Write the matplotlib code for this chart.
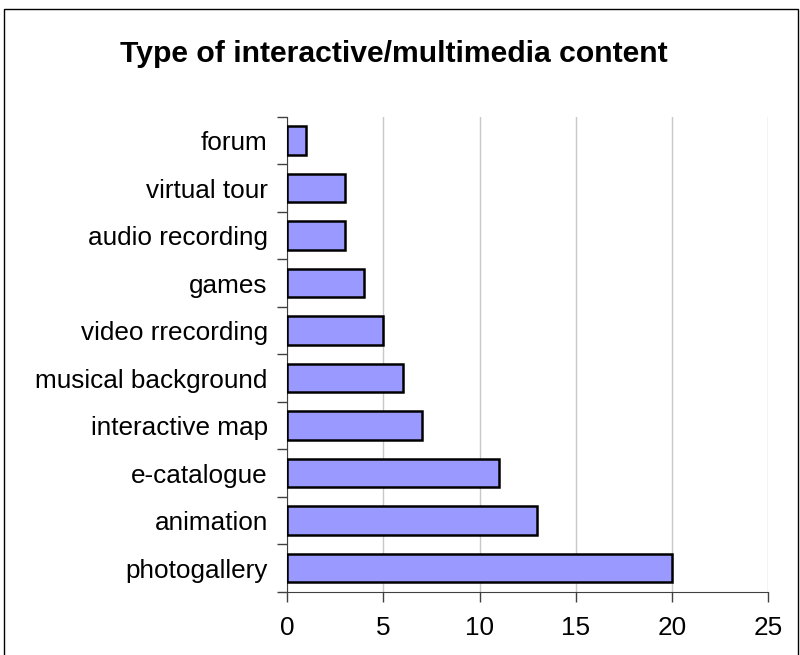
import matplotlib.pyplot as plt
from matplotlib.patches import Rectangle

categories = ["photogallery", "animation", "e-catalogue", "interactive map",
              "musical background", "video rrecording", "games",
              "audio recording", "virtual tour", "forum"]
values = [20, 13, 11, 7, 6, 5, 4, 3, 3, 1]
xticks = [0, 5, 10, 15, 20, 25]

plt.rcParams['font.family'] = ['Liberation Sans', 'DejaVu Sans']

fig = plt.figure(figsize=(8, 6.55), dpi=100)
ax = fig.add_axes([0.359, 0.0962, 0.601, 0.7252])

pos = list(range(len(categories)))
ax.barh(pos, values, height=0.6, color='#9999FF', edgecolor='black', linewidth=1.8, zorder=3)

ax.set_xlim(0, 25)
ax.set_ylim(-0.5, len(categories) - 0.5)
ax.set_xticks(xticks)
ax.set_xticklabels([str(t) for t in xticks], fontsize=18.8)
ax.xaxis.grid(True, color='#c8c8c8', linewidth=1, zorder=0)

ax.set_yticks(pos)
ax.set_yticklabels(categories, fontsize=18.8)
ax.tick_params(axis='y', length=0, pad=14)
ax.set_yticks([p - 0.5 for p in range(len(categories) + 1)], minor=True)
ax.tick_params(axis='y', which='minor', length=7, width=1, color='#404040')
ax.tick_params(axis='x', length=7, width=1, color='#404040', pad=10)

for s in ['top', 'right']:
    ax.spines[s].set_visible(False)
ax.spines['left'].set_color('#404040')
ax.spines['bottom'].set_color('#404040')

fig.text(0.4925, 0.918, "Type of interactive/multimedia content", ha='center', va='center',
         fontsize=21.7, fontweight='bold')

# chart border (bottom edge falls outside the picture, as in the reference)
fig.patches.append(Rectangle((0.005, -0.02), 0.992, 1 - 9 / 655 + 0.02,
                             transform=fig.transFigure, fill=False,
                             edgecolor='black', linewidth=1))

fig.savefig("out.png", dpi=100)
